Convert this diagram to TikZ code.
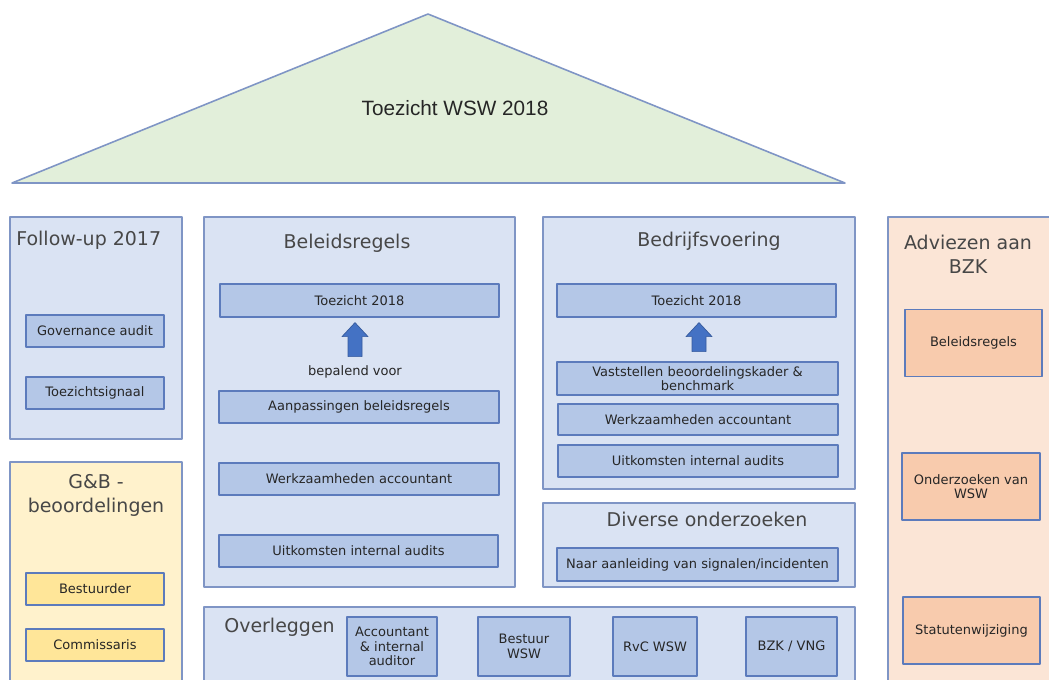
\documentclass[tikz,border=0pt]{standalone}
\usepackage{fontspec}
\setmainfont{DejaVu Sans}
\newfontfamily\roofont{Liberation Sans}
\usetikzlibrary{calc}
\definecolor{frameblue}{HTML}{7F95C5}
\definecolor{innerline}{HTML}{5C7BBC}
\definecolor{paleblue}{HTML}{DAE3F3}
\definecolor{midblue}{HTML}{B4C7E7}
\definecolor{paleyellow}{HTML}{FFF2CC}
\definecolor{midyellow}{HTML}{FFE699}
\definecolor{paleorange}{HTML}{FBE5D6}
\definecolor{midorange}{HTML}{F8CBAD}
\definecolor{palegreen}{HTML}{E2EFDA}
\definecolor{arrowblue}{HTML}{4472C4}
\definecolor{txt}{HTML}{262626}

\begin{document}
\begin{tikzpicture}[x=0.02cm, y=-0.02cm, line join=round, text=txt,
  outer/.style={draw=frameblue, line width=0.8pt},
  title/.style={font=\fontsize{10.8}{13.6}\selectfont, text=txt!85, align=center, inner sep=0pt},
  item/.style={draw=innerline, line width=0.7pt, fill=midblue, align=center, inner sep=1pt,
    font=\fontsize{7.4}{8.3}\selectfont},
  itemy/.style={item, fill=midyellow},
  itemo/.style={item, fill=midorange},
  uparrow/.style={fill=arrowblue, draw=arrowblue!80!black, line width=0.4pt}]
\useasboundingbox (0,0) rectangle (1049,680);
%========================
% roof
%========================
\filldraw[fill=palegreen, draw=frameblue, line width=0.9pt] (12,183) -- (428,14) -- (845,183) -- cycle;
\node[font=\roofont\fontsize{11.8}{14}\selectfont] (roof) at (455,108) {Toezicht WSW 2018};

%========================
% left column
%========================
\filldraw[outer, fill=paleblue] (10,217) rectangle (182,439);
\node[title, anchor=west] (follow) at (16,240) {Follow-up 2017};
\node[item, minimum width=2.76cm, minimum height=0.64cm] (gov) at (95,331) {Governance audit};
\node[item, minimum width=2.76cm, minimum height=0.64cm] (sig) at (95,393) {Toezichtsignaal};

\fill[paleyellow] (10,462) rectangle (182,680);
\draw[outer] (10,681) |- (182,462) -- (182,681);
\node[title] (gb) at (96,495) {G\&B -\\beoordelingen};
\node[itemy, minimum width=2.76cm, minimum height=0.64cm] (bes) at (95,589) {Bestuurder};
\node[itemy, minimum width=2.76cm, minimum height=0.64cm] (com) at (95,645) {Commissaris};

%========================
% Beleidsregels
%========================
\filldraw[outer, fill=paleblue] (204,217) rectangle (515,587);
\node[title] (beleid) at (347,243) {Beleidsregels};
\node[item, minimum width=5.58cm, minimum height=0.66cm] (t18a) at (359.5,300.5) {Toezicht 2018};
\node[font=\fontsize{7.4}{9}\selectfont, inner sep=0pt] (bep) at (355,372) {bepalend voor};
\node[item, minimum width=5.6cm, minimum height=0.64cm] (aanp) at (359,407) {Aanpassingen beleidsregels};
\node[item, minimum width=5.6cm, minimum height=0.64cm] (werka) at (359,479) {Werkzaamheden accountant};
\node[item, minimum width=5.58cm, minimum height=0.64cm] (uitka) at (358.5,551) {Uitkomsten internal audits};
% block arrow
\filldraw[uparrow] ($(t18a.south)+(-4.5,5)$) -- ++(13,14) -- ++(-6,0) -- ++(0,20)
  -- ++(-14,0) -- ++(0,-20) -- ++(-6,0) -- cycle;

%========================
% Bedrijfsvoering
%========================
\filldraw[outer, fill=paleblue] (543,217) rectangle (855,489);
\node[title] (bedrijf) at (709,241) {Bedrijfsvoering};
\node[item, minimum width=5.58cm, minimum height=0.66cm] (t18b) at (696.5,300.5) {Toezicht 2018};
\node[item, minimum width=5.62cm, minimum height=0.66cm] (vast) at (697.5,378.5) {Vaststellen beoordelingskader \&\\benchmark};
\node[item, minimum width=5.6cm, minimum height=0.62cm] (werkb) at (698,419.5) {Werkzaamheden accountant};
\node[item, minimum width=5.6cm, minimum height=0.64cm] (uitkb) at (698,461) {Uitkomsten internal audits};
% block arrow
\filldraw[uparrow] ($(t18b.south)+(2.5,5)$) -- ++(13,14) -- ++(-6,0) -- ++(0,15)
  -- ++(-14,0) -- ++(0,-15) -- ++(-6,0) -- cycle;

%========================
% Diverse onderzoeken
%========================
\filldraw[outer, fill=paleblue] (543,503) rectangle (855,587);
\node[title] (divers) at (707,519) {Diverse onderzoeken};
\node[item, minimum width=5.62cm, minimum height=0.66cm] (naar) at (697.5,564.5) {Naar aanleiding van signalen/incidenten};

%========================
% Overleggen
%========================
\fill[paleblue] (204,607) rectangle (855,680);
\draw[outer] (204,681) |- (855,607) -- (855,681);
\node[title, anchor=west] (overleg) at (224,627) {Overleggen};
\node[item, minimum width=1.8cm, minimum height=1.18cm] (acc) at (392,646.5) {Accountant\\\& internal\\auditor};
\node[item, minimum width=1.84cm, minimum height=1.18cm] (bwsw) at (524,646.5) {Bestuur\\WSW};
\node[item, minimum width=1.68cm, minimum height=1.18cm] (rvc) at (655,646.5) {RvC WSW};
\node[item, minimum width=1.82cm, minimum height=1.18cm] (bzk) at (791.5,646.5) {BZK / VNG};

%========================
% Adviezen aan BZK
%========================
\fill[paleorange] (888,217) rectangle (1049,680);
\draw[outer] (888,681) |- (1050,217);
\node[title] (advies) at (968,254) {Adviezen aan\\BZK};
\node[itemo, minimum width=2.74cm, minimum height=1.34cm] (adv1) at (973.5,343) {Beleidsregels};
\node[itemo, minimum width=2.76cm, minimum height=1.34cm] (adv2) at (971,486.5) {Onderzoeken van\\WSW};
\node[itemo, minimum width=2.74cm, minimum height=1.34cm] (adv3) at (971.5,630.5) {Statutenwijziging};
\end{tikzpicture}
\end{document}
